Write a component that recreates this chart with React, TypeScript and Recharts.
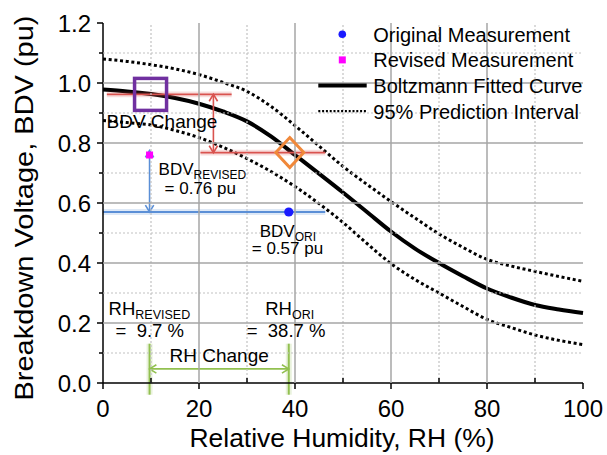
import {
  ComposedChart,
  Line,
  XAxis,
  YAxis,
  ReferenceLine,
  ReferenceDot,
  Legend,
} from "recharts";

// Boltzmann fit + 95% prediction band, every 5 % RH
const RH = [0, 5, 10, 15, 20, 25, 30, 35, 40, 45, 50, 55, 60, 65, 70, 75, 80, 85, 90, 95, 100];
const FIT = [0.978, 0.972, 0.963, 0.95, 0.931, 0.905, 0.872, 0.822, 0.76, 0.698, 0.635, 0.57, 0.505, 0.448, 0.4, 0.356, 0.315, 0.285, 0.26, 0.245, 0.233];
const PI_UPPER = [1.08, 1.072, 1.061, 1.047, 1.028, 1.002, 0.972, 0.922, 0.858, 0.79, 0.722, 0.662, 0.605, 0.55, 0.497, 0.452, 0.412, 0.39, 0.372, 0.355, 0.339];
const PI_LOWER = [0.875, 0.868, 0.86, 0.842, 0.818, 0.786, 0.748, 0.705, 0.655, 0.598, 0.535, 0.465, 0.398, 0.345, 0.3, 0.255, 0.212, 0.185, 0.16, 0.142, 0.128];

// measurements
const ORIGINAL = { rh: 38.7, bdv: 0.57 };
const REVISED = { rh: 9.7, bdv: 0.76 };
// fitted BDV at the revised / original RH
const FIT_AT_REVISED = 0.962;
const FIT_AT_ORIGINAL = 0.768;

const X_TICKS = [0, 10, 20, 30, 40, 50, 60, 70, 80, 90, 100];
const Y_TICKS = [0, 0.1, 0.2, 0.3, 0.4, 0.5, 0.6, 0.7, 0.8, 0.9, 1.0, 1.1, 1.2];
const X_GRID_MAJOR = [20, 40, 60, 80];
const X_GRID_MINOR = [10, 30, 50, 70, 90];
const Y_GRID_MAJOR = [0.2, 0.4, 0.6, 0.8, 1.0];
const Y_GRID_MINOR = [0.1, 0.3, 0.5, 0.7, 0.9, 1.1];

const LEGEND_ITEMS = [
  { name: "Original Measurement", kind: "dot" },
  { name: "Revised Measurement", kind: "square" },
  { name: "Boltzmann Fitted Curve", kind: "line" },
  { name: "95% Prediction Interval", kind: "dotted" },
];

const FONT = "'Liberation Sans', Arial, sans-serif";
const RED = "#d9534f";
const BLUE = "#5b8fd6";
const GREEN = "#92c050";
const PLOT_W = 480;
const PLOT_H = 360;

const data = RH.map((rh, i) => ({
  rh,
  fit: FIT[i],
  upper: PI_UPPER[i],
  lower: PI_LOWER[i],
}));

function XTick(props: any) {
  const { x, y, payload } = props;
  const v = payload.value as number;
  const major = v % 20 === 0;
  return (
    <g>
      <line x1={x} x2={x} y1={y} y2={major ? y + 6 : y - 5} stroke="#000" strokeWidth={1.5} />
      {major && (
        <text x={x} y={y + 34} textAnchor="middle" fontSize={24} fontFamily={FONT} fill="#000">
          {v}
        </text>
      )}
    </g>
  );
}

function YTick(props: any) {
  const { x, y, payload } = props;
  const v = payload.value as number;
  const major = Math.round(v * 10) % 2 === 0;
  return (
    <g>
      <line x1={x - (major ? 6 : 4)} x2={x} y1={y} y2={y} stroke="#000" strokeWidth={1.5} />
      {major && (
        <text x={x - 12} y={y + 8.5} textAnchor="end" fontSize={24} fontFamily={FONT} fill="#000">
          {v.toFixed(1)}
        </text>
      )}
    </g>
  );
}

// line with open arrow heads at both ends
const arrowShape = (color: string) => (p: any) => {
  const { x1, y1, x2, y2 } = p;
  const a = Math.atan2(y2 - y1, x2 - x1);
  const L = 8;
  const s = 0.55;
  const head = (x: number, y: number, ang: number) =>
    `M${x + L * Math.cos(ang + s)},${y + L * Math.sin(ang + s)} L${x},${y} L${x + L * Math.cos(ang - s)},${y + L * Math.sin(ang - s)} `;
  return (
    <g>
      <line x1={x1} y1={y1} x2={x2} y2={y2} stroke={color} strokeWidth={1.6} />
      <path d={head(x1, y1, a) + head(x2, y2, a + Math.PI)} fill="none" stroke={color} strokeWidth={1.6} />
    </g>
  );
};

const glowLine = (color: string, width: number) => (p: any) => (
  <g>
    <line x1={p.x1} y1={p.y1} x2={p.x2} y2={p.y2} stroke={color} strokeOpacity={0.2} strokeWidth={width + 4} />
    <line x1={p.x1} y1={p.y1} x2={p.x2} y2={p.y2} stroke={color} strokeWidth={width} />
  </g>
);

// grid line anchored on the axis value (vertical from bottom, horizontal from left)
const gridAt = (vertical: boolean, major: boolean) => (p: any) => (
  <line
    x1={p.cx}
    y1={p.cy}
    x2={vertical ? p.cx : p.cx + PLOT_W}
    y2={vertical ? p.cy - PLOT_H : p.cy}
    stroke={major ? "#a6a6a6" : "#c2c2c2"}
    strokeWidth={major ? 1.5 : 1.2}
    strokeDasharray={major ? undefined : "2 2"}
  />
);

function Txt({ x, y, size = 17, anchor = "start", children }: any) {
  return (
    <text
      x={x}
      y={y}
      fontSize={size}
      fontFamily={FONT}
      fill="#000"
      textAnchor={anchor}
      style={{ whiteSpace: "pre" }}
    >
      {children}
    </text>
  );
}

function LegendBox() {
  return (
    <svg width={290} height={110} style={{ overflow: "visible" }}>
      {LEGEND_ITEMS.map((item, i) => {
        const cy = 14.3 + i * 25.6;
        return (
          <g key={item.name}>
            {item.kind === "dot" && <circle cx={26.3} cy={cy} r={3.8} fill="#1a1aff" />}
            {item.kind === "square" && <rect x={22.8} y={cy - 3.5} width={7} height={7} fill="#ff00ff" />}
            {item.kind === "line" && <line x1={2.3} x2={50.7} y1={cy} y2={cy} stroke="#000" strokeWidth={4} />}
            {item.kind === "dotted" && (
              <line x1={2.3} x2={50.7} y1={cy} y2={cy} stroke="#000" strokeWidth={2.2} strokeDasharray="2 1.8" />
            )}
            <text x={57.3} y={cy + 7.4} fontSize={20} fontFamily={FONT} fill="#000">
              {item.name}
            </text>
          </g>
        );
      })}
    </svg>
  );
}

export default function App() {
  return (
    <div style={{ position: "absolute", left: 0, top: 0, width: 607, height: 455, background: "#fff" }}>
      <ComposedChart width={607} height={455} data={data} margin={{ top: 23, right: 24, bottom: 0, left: 0 }}>
        <XAxis
          type="number"
          dataKey="rh"
          domain={[0, 100]}
          ticks={X_TICKS}
          interval={0}
          tickSize={0}
          tickMargin={0}
          tickLine={false}
          tick={<XTick />}
          height={72}
          axisLine={{ stroke: "#000", strokeWidth: 1.5 }}
          label={{
            content: (p: any) => (
              <text
                x={p.viewBox.x + p.viewBox.width / 2 - 1}
                y={p.viewBox.y + 63.5}
                textAnchor="middle"
                fontSize={25}
                fontFamily={FONT}
                fill="#000"
                textLength={305}
                lengthAdjust="spacingAndGlyphs"
              >
                Relative Humidity, RH (%)
              </text>
            ),
          }}
        />
        <YAxis
          type="number"
          domain={[0, 1.2]}
          ticks={Y_TICKS}
          interval={0}
          width={103}
          tickSize={0}
          tickMargin={0}
          tickLine={false}
          tick={<YTick />}
          axisLine={{ stroke: "#000", strokeWidth: 1.5 }}
          label={{
            content: (p: any) => {
              const cy = p.viewBox.y + p.viewBox.height / 2 + 5;
              return (
                <text
                  x={33}
                  y={cy}
                  transform={`rotate(-90 33 ${cy})`}
                  textAnchor="middle"
                  fontSize={25}
                  fontFamily={FONT}
                  fill="#000"
                  textLength={385}
                  lengthAdjust="spacingAndGlyphs"
                >
                  Breakdown Voltage, BDV (pu)
                </text>
              );
            },
          }}
        />

        {/* grid: dotted minor, solid major */}
        {X_GRID_MINOR.map((v) => (
          <ReferenceDot key={"xm" + v} x={v} y={0} ifOverflow="visible" shape={gridAt(true, false)} />
        ))}
        {Y_GRID_MINOR.map((v) => (
          <ReferenceDot key={"ym" + v} x={0} y={v} ifOverflow="visible" shape={gridAt(false, false)} />
        ))}
        {X_GRID_MAJOR.map((v) => (
          <ReferenceDot key={"xM" + v} x={v} y={0} ifOverflow="visible" shape={gridAt(true, true)} />
        ))}
        {Y_GRID_MAJOR.map((v) => (
          <ReferenceDot key={"yM" + v} x={0} y={v} ifOverflow="visible" shape={gridAt(false, true)} />
        ))}

        <Line type="monotone" dataKey="upper" stroke="#000" strokeWidth={3} strokeDasharray="3 2.7" dot={false} isAnimationActive={false} />
        <Line type="monotone" dataKey="lower" stroke="#000" strokeWidth={3} strokeDasharray="3 2.7" dot={false} isAnimationActive={false} />
        <Line type="monotone" dataKey="fit" stroke="#000" strokeWidth={4} dot={false} isAnimationActive={false} />

        {/* BDV change (red) */}
        <ReferenceLine
          segment={[{ x: 0.8, y: FIT_AT_REVISED }, { x: 26.8, y: FIT_AT_REVISED }]}
          ifOverflow="visible"
          shape={glowLine(RED, 1.6)}
        />
        <ReferenceLine
          segment={[{ x: 20.3, y: FIT_AT_ORIGINAL }, { x: 46.3, y: FIT_AT_ORIGINAL }]}
          ifOverflow="visible"
          shape={glowLine(RED, 1.6)}
        />
        <ReferenceLine
          segment={[{ x: 23, y: FIT_AT_REVISED }, { x: 23, y: FIT_AT_ORIGINAL }]}
          ifOverflow="visible"
          shape={arrowShape(RED)}
        />

        {/* original -> revised BDV (blue) */}
        <ReferenceLine
          segment={[{ x: 0, y: ORIGINAL.bdv }, { x: 46.3, y: ORIGINAL.bdv }]}
          ifOverflow="visible"
          shape={glowLine(BLUE, 2)}
        />
        <ReferenceLine
          segment={[{ x: REVISED.rh, y: REVISED.bdv + 0.015 }, { x: REVISED.rh, y: ORIGINAL.bdv }]}
          ifOverflow="visible"
          shape={arrowShape(BLUE)}
        />

        {/* RH change (green) */}
        <ReferenceLine
          segment={[{ x: REVISED.rh, y: 0.131 }, { x: REVISED.rh, y: -0.039 }]}
          ifOverflow="visible"
          shape={glowLine(GREEN, 2)}
        />
        <ReferenceLine
          segment={[{ x: ORIGINAL.rh, y: 0.131 }, { x: ORIGINAL.rh, y: -0.039 }]}
          ifOverflow="visible"
          shape={glowLine(GREEN, 2)}
        />
        <ReferenceLine
          segment={[{ x: REVISED.rh, y: 0.047 }, { x: ORIGINAL.rh, y: 0.047 }]}
          ifOverflow="visible"
          shape={arrowShape(GREEN)}
        />

        {/* highlight markers on the fitted curve */}
        <ReferenceDot
          x={REVISED.rh}
          y={FIT_AT_REVISED}
          ifOverflow="visible"
          shape={(p: any) => (
            <rect x={p.cx - 15} y={p.cy - 16} width={32} height={32} fill="none" stroke="#7030a0" strokeWidth={3.5} />
          )}
        />
        <ReferenceDot
          x={ORIGINAL.rh}
          y={FIT_AT_ORIGINAL}
          ifOverflow="visible"
          shape={(p: any) => (
            <path
              d={`M${p.cx + 1},${p.cy - 15} L${p.cx + 15},${p.cy} L${p.cx + 1},${p.cy + 15} L${p.cx - 13},${p.cy} Z`}
              fill="none"
              stroke="#f0883a"
              strokeWidth={3}
            />
          )}
        />

        {/* measurements */}
        <ReferenceDot
          x={ORIGINAL.rh}
          y={ORIGINAL.bdv}
          ifOverflow="visible"
          shape={(p: any) => (
            <g>
              <circle cx={p.cx} cy={p.cy} r={4.6} fill="#1a1aff" />
              <Txt x={p.cx - 29} y={p.cy + 24.5}>
                BDV<tspan fontSize={12} dy={4}>ORI</tspan>
              </Txt>
              <Txt x={p.cx - 37} y={p.cy + 42}>= 0.57 pu</Txt>
            </g>
          )}
        />
        <ReferenceDot
          x={REVISED.rh}
          y={REVISED.bdv}
          ifOverflow="visible"
          shape={(p: any) => (
            <g>
              <rect x={p.cx - 3.5} y={p.cy - 3.5} width={7} height={7} fill="#ff00ff" />
              <Txt x={p.cx + 9} y={p.cy + 20}>
                BDV<tspan fontSize={12} dy={4}>REVISED</tspan>
              </Txt>
              <Txt x={p.cx + 15} y={p.cy + 39}>= 0.76 pu</Txt>
            </g>
          )}
        />

        {/* text labels */}
        <ReferenceDot
          x={0}
          y={FIT_AT_REVISED}
          ifOverflow="visible"
          shape={(p: any) => (
            <Txt x={p.cx + 3.5} y={p.cy + 33.5} size={19}>
              BDV Change
            </Txt>
          )}
        />
        <ReferenceDot
          x={REVISED.rh}
          y={0}
          ifOverflow="visible"
          shape={(p: any) => (
            <g>
              <Txt x={p.cx - 41} y={p.cy - 68.5} size={18.5}>
                RH<tspan fontSize={12.5} dy={4}>REVISED</tspan>
              </Txt>
              <Txt x={p.cx - 34} y={p.cy - 46.5} size={18.5}>
                {"=  9.7 %"}
              </Txt>
            </g>
          )}
        />
        <ReferenceDot
          x={ORIGINAL.rh}
          y={0}
          ifOverflow="visible"
          shape={(p: any) => (
            <g>
              <Txt x={p.cx - 23.5} y={p.cy - 68.5} size={18.5}>
                RH<tspan fontSize={12.5} dy={4}>ORI</tspan>
              </Txt>
              <Txt x={p.cx - 42} y={p.cy - 46.5} size={18.5}>
                {"=  38.7 %"}
              </Txt>
            </g>
          )}
        />
        <ReferenceDot
          x={(REVISED.rh + ORIGINAL.rh) / 2}
          y={0}
          ifOverflow="visible"
          shape={(p: any) => (
            <Txt x={p.cx} y={p.cy - 21.5} size={19} anchor="middle">
              RH Change
            </Txt>
          )}
        />

        <Legend
          layout="vertical"
          align="center"
          verticalAlign="middle"
          wrapperStyle={{ left: 316, top: 20, width: 290, height: 110 }}
          content={() => <LegendBox />}
        />
      </ComposedChart>
    </div>
  );
}
